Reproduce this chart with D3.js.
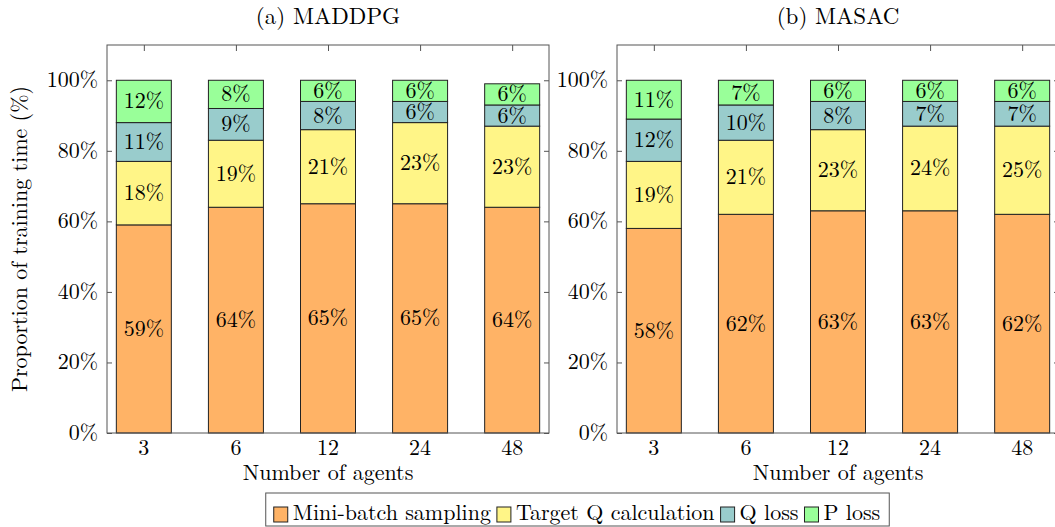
<!DOCTYPE html>
<html>
<head>
<meta charset="utf-8">
<script src="https://cdn.jsdelivr.net/npm/d3@7"></script>
<style>
  body { margin: 0; background: #fff; }
</style>
</head>
<body>
<svg></svg>
<script>
//categories on the x axis
var agents = ["3", "6", "12", "24", "48"];
//the four parts of the training time, bottom to top
var parts = ["Mini-batch sampling", "Target Q calculation", "Q loss", "P loss"];

//MADDPG values in %
var maddpgSampling = [59, 64, 65, 65, 64];
var maddpgTargetQ = [18, 19, 21, 23, 23];
var maddpgQLoss = [11, 9, 8, 6, 6];
var maddpgPLoss = [12, 8, 6, 6, 6];

//MASAC values in %
var masacSampling = [58, 62, 63, 63, 62];
var masacTargetQ = [19, 21, 23, 24, 25];
var masacQLoss = [12, 10, 8, 7, 7];
var masacPLoss = [11, 7, 6, 6, 6];

//y tick values
var yTicks = [0, 20, 40, 60, 80, 100];
var titles = ["(a) MADDPG", "(b) MASAC"];

var colors = ["#FFB366", "#FFF587", "#99CCCC", "#99FF99"];

var svgWidth = 1055, svgHeight = 527;
var fontSize = 22, titleSize = 23;
var fontName = "'Latin Modern Roman', 'Liberation Serif', serif";
//note: "top" is taken by window.top, so use plotTop
var plotTop = 45, plotBottom = 433;
var panelWidth = 442;
var panelLefts = [107, 617];

var svg = d3.select("svg")
    .attr("width", svgWidth)
    .attr("height", svgHeight)
    .attr("font-family", fontName)
    .attr("font-size", fontSize)
    .attr("fill", "#000");

//turn the arrays into rows the stack layout can read
function makeRows(a, b, c, d) {
  return agents.map(function (n, i) {
    var row = { agent: n };
    row[parts[0]] = a[i];
    row[parts[1]] = b[i];
    row[parts[2]] = c[i];
    row[parts[3]] = d[i];
    return row;
  });
}

var tables = [
  makeRows(maddpgSampling, maddpgTargetQ, maddpgQLoss, maddpgPLoss),
  makeRows(masacSampling, masacTargetQ, masacQLoss, masacPLoss)
];

var stack = d3.stack().keys(parts);

var y = d3.scaleLinear().domain([0, 110]).range([plotBottom, plotTop]);

function drawPanel(k) {
  var left = panelLefts[k];
  var x = d3.scalePoint()
      .domain(agents)
      .range([left, left + panelWidth])
      .padding(0.4);
  var barWidth = 55;

  var g = svg.append("g");

  //bars, one layer per part
  var layers = g.selectAll("g.layer")
      .data(stack(tables[k]))
      .enter()
      .append("g")
      .attr("class", "layer")
      .attr("fill", function (d, i) { return colors[i]; });

  layers.selectAll("rect")
      .data(function (d) { return d; })
      .enter()
      .append("rect")
      .attr("x", function (d) { return x(d.data.agent) - barWidth / 2; })
      .attr("y", function (d) { return y(d[1]); })
      .attr("width", barWidth)
      .attr("height", function (d) { return y(d[0]) - y(d[1]); })
      .attr("stroke", "#222")
      .attr("stroke-width", 1);

  //value labels in the middle of each segment
  g.selectAll("g.labels")
      .data(stack(tables[k]))
      .enter()
      .append("g")
      .attr("class", "labels")
      .selectAll("text")
      .data(function (d) { return d; })
      .enter()
      .append("text")
      .attr("x", function (d) { return x(d.data.agent); })
      .attr("y", function (d) { return (y(d[0]) + y(d[1])) / 2 + 7; })
      .attr("text-anchor", "middle")
      .text(function (d) { return (d[1] - d[0]) + "%"; });

  //axes: left and right with ticks pointing inward
  var frame = g.append("g").attr("color", "#555");
  frame.append("g")
      .attr("transform", "translate(" + left + ",0)")
      .call(d3.axisRight(y).tickValues(yTicks).tickSize(5).tickFormat(""))
      .call(function (a) { a.select(".domain").remove(); });
  frame.append("g")
      .attr("transform", "translate(" + (left + panelWidth) + ",0)")
      .call(d3.axisLeft(y).tickValues(yTicks).tickSize(5).tickFormat(""))
      .call(function (a) { a.select(".domain").remove(); });
  frame.append("g")
      .attr("transform", "translate(0," + plotTop + ")")
      .call(d3.axisBottom(x).tickSize(6).tickFormat(""))
      .call(function (a) { a.select(".domain").remove(); });
  frame.append("rect")
      .attr("x", left)
      .attr("y", plotTop)
      .attr("width", panelWidth)
      .attr("height", plotBottom - plotTop)
      .attr("fill", "none")
      .attr("stroke", "#555")
      .attr("stroke-width", 1);

  //tick labels
  g.selectAll("text.ylab")
      .data(yTicks)
      .enter()
      .append("text")
      .attr("class", "ylab")
      .attr("x", left - 9)
      .attr("y", function (d) { return y(d) + 7; })
      .attr("text-anchor", "end")
      .text(function (d) { return d + "%"; });

  g.selectAll("text.xlab")
      .data(agents)
      .enter()
      .append("text")
      .attr("class", "xlab")
      .attr("x", function (d) { return x(d); })
      .attr("y", plotBottom + 22)
      .attr("text-anchor", "middle")
      .text(function (d) { return d; });

  //title and x axis name
  g.append("text")
      .attr("x", left + panelWidth / 2)
      .attr("y", 24)
      .attr("text-anchor", "middle")
      .attr("font-size", titleSize)
      .text(titles[k]);

  g.append("text")
      .attr("x", left + panelWidth / 2)
      .attr("y", 480)
      .attr("text-anchor", "middle")
      .text("Number of agents");
}

drawPanel(0);
drawPanel(1);

//y axis name
svg.append("text")
    .attr("transform", "translate(27," + (plotTop + plotBottom) / 2 + ") rotate(-90)")
    .attr("text-anchor", "middle")
    .text("Proportion of training time (%)");

//legend, laid out from the measured text widths
var legend = svg.append("g");
var box = legend.append("rect")
    .attr("fill", "#fff")
    .attr("stroke", "#555")
    .attr("stroke-width", 1);

var cursor = 0;
parts.forEach(function (name, i) {
  legend.append("rect")
      .attr("x", cursor)
      .attr("y", 507)
      .attr("width", 14)
      .attr("height", 15)
      .attr("fill", colors[i])
      .attr("stroke", "#222");
  var t = legend.append("text")
      .attr("x", cursor + 19)
      .attr("y", 520)
      .text(name);
  cursor += 19 + t.node().getComputedTextLength() + 6;
});

var legendLeft = 580 - cursor / 2;
legend.attr("transform", "translate(" + legendLeft + ",0)");
box.attr("x", -8)
    .attr("y", 493)
    .attr("width", cursor + 11)
    .attr("height", 33);
</script>
</body>
</html>
